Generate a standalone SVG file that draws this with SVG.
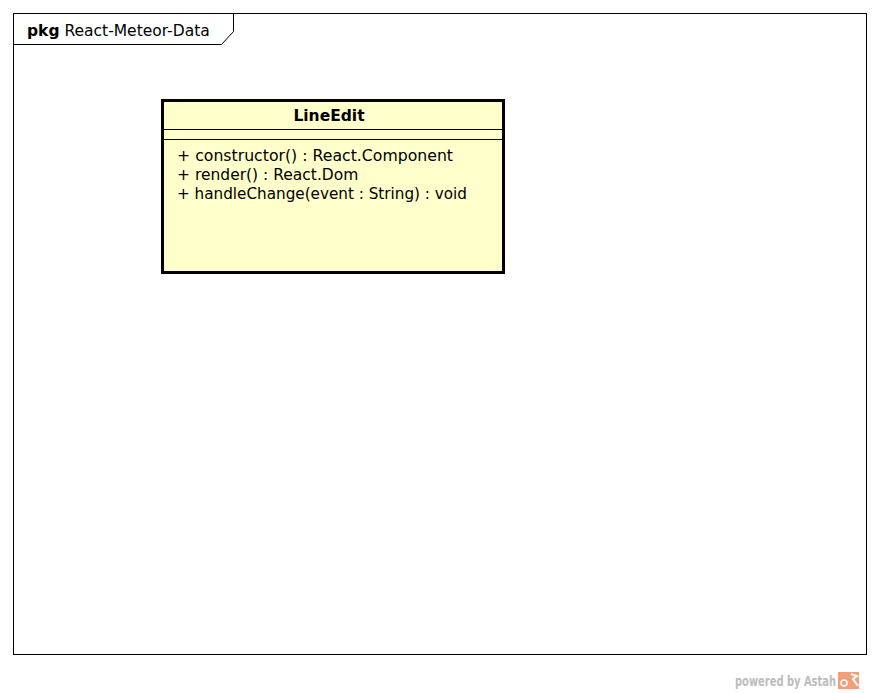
<svg xmlns="http://www.w3.org/2000/svg" width="880" height="693" viewBox="0 0 880 693">
<style>
.t{font-family:"DejaVu Sans","Liberation Sans",sans-serif;font-size:15.5px;fill:#000}
.b{font-weight:bold}
</style>
<rect width="880" height="693" fill="#fff"/>
<g id="frame">
<rect x="13.5" y="13.5" width="853" height="641" fill="none" stroke="#000" stroke-width="1"/>
<path d="M13.5 44.5 H221.5 L233.5 31.5 V13.5" fill="none" stroke="#000" stroke-width="1"/>
<text class="t" x="27" y="36"><tspan class="b">pkg</tspan> React-Meteor-Data</text>
</g>
<g id="LineEdit">
<rect x="162.5" y="100.5" width="341" height="172" fill="#ffffcc" stroke="#000" stroke-width="3"/>
<line x1="162" y1="129.5" x2="504" y2="129.5" stroke="#000" stroke-width="1"/>
<line x1="162" y1="139.5" x2="504" y2="139.5" stroke="#000" stroke-width="1"/>
<text class="t b" x="329" y="121" text-anchor="middle">LineEdit</text>
<text class="t" x="177" y="161" textLength="276" lengthAdjust="spacingAndGlyphs">+ constructor() : React.Component</text>
<text class="t" x="177" y="180">+ render() : React.Dom</text>
<text class="t" x="177" y="199" textLength="290" lengthAdjust="spacingAndGlyphs">+ handleChange(event : String) : void</text>
</g>
<g id="connectors"></g>
<g id="watermark">
<text x="735" y="686" font-family="'DejaVu Sans','Liberation Sans',sans-serif" font-size="13.5" font-weight="bold" fill="#bcbcbc" textLength="101" lengthAdjust="spacingAndGlyphs">powered by Astah</text>
<rect x="838" y="672" width="21" height="17" fill="#f0a078"/>
<path d="M851 674 L857 676 L853 679 L858 686" fill="none" stroke="#fff" stroke-width="2"/>
<circle cx="844" cy="683" r="3" fill="none" stroke="#fff" stroke-width="1.5"/>
</g>
</svg>
